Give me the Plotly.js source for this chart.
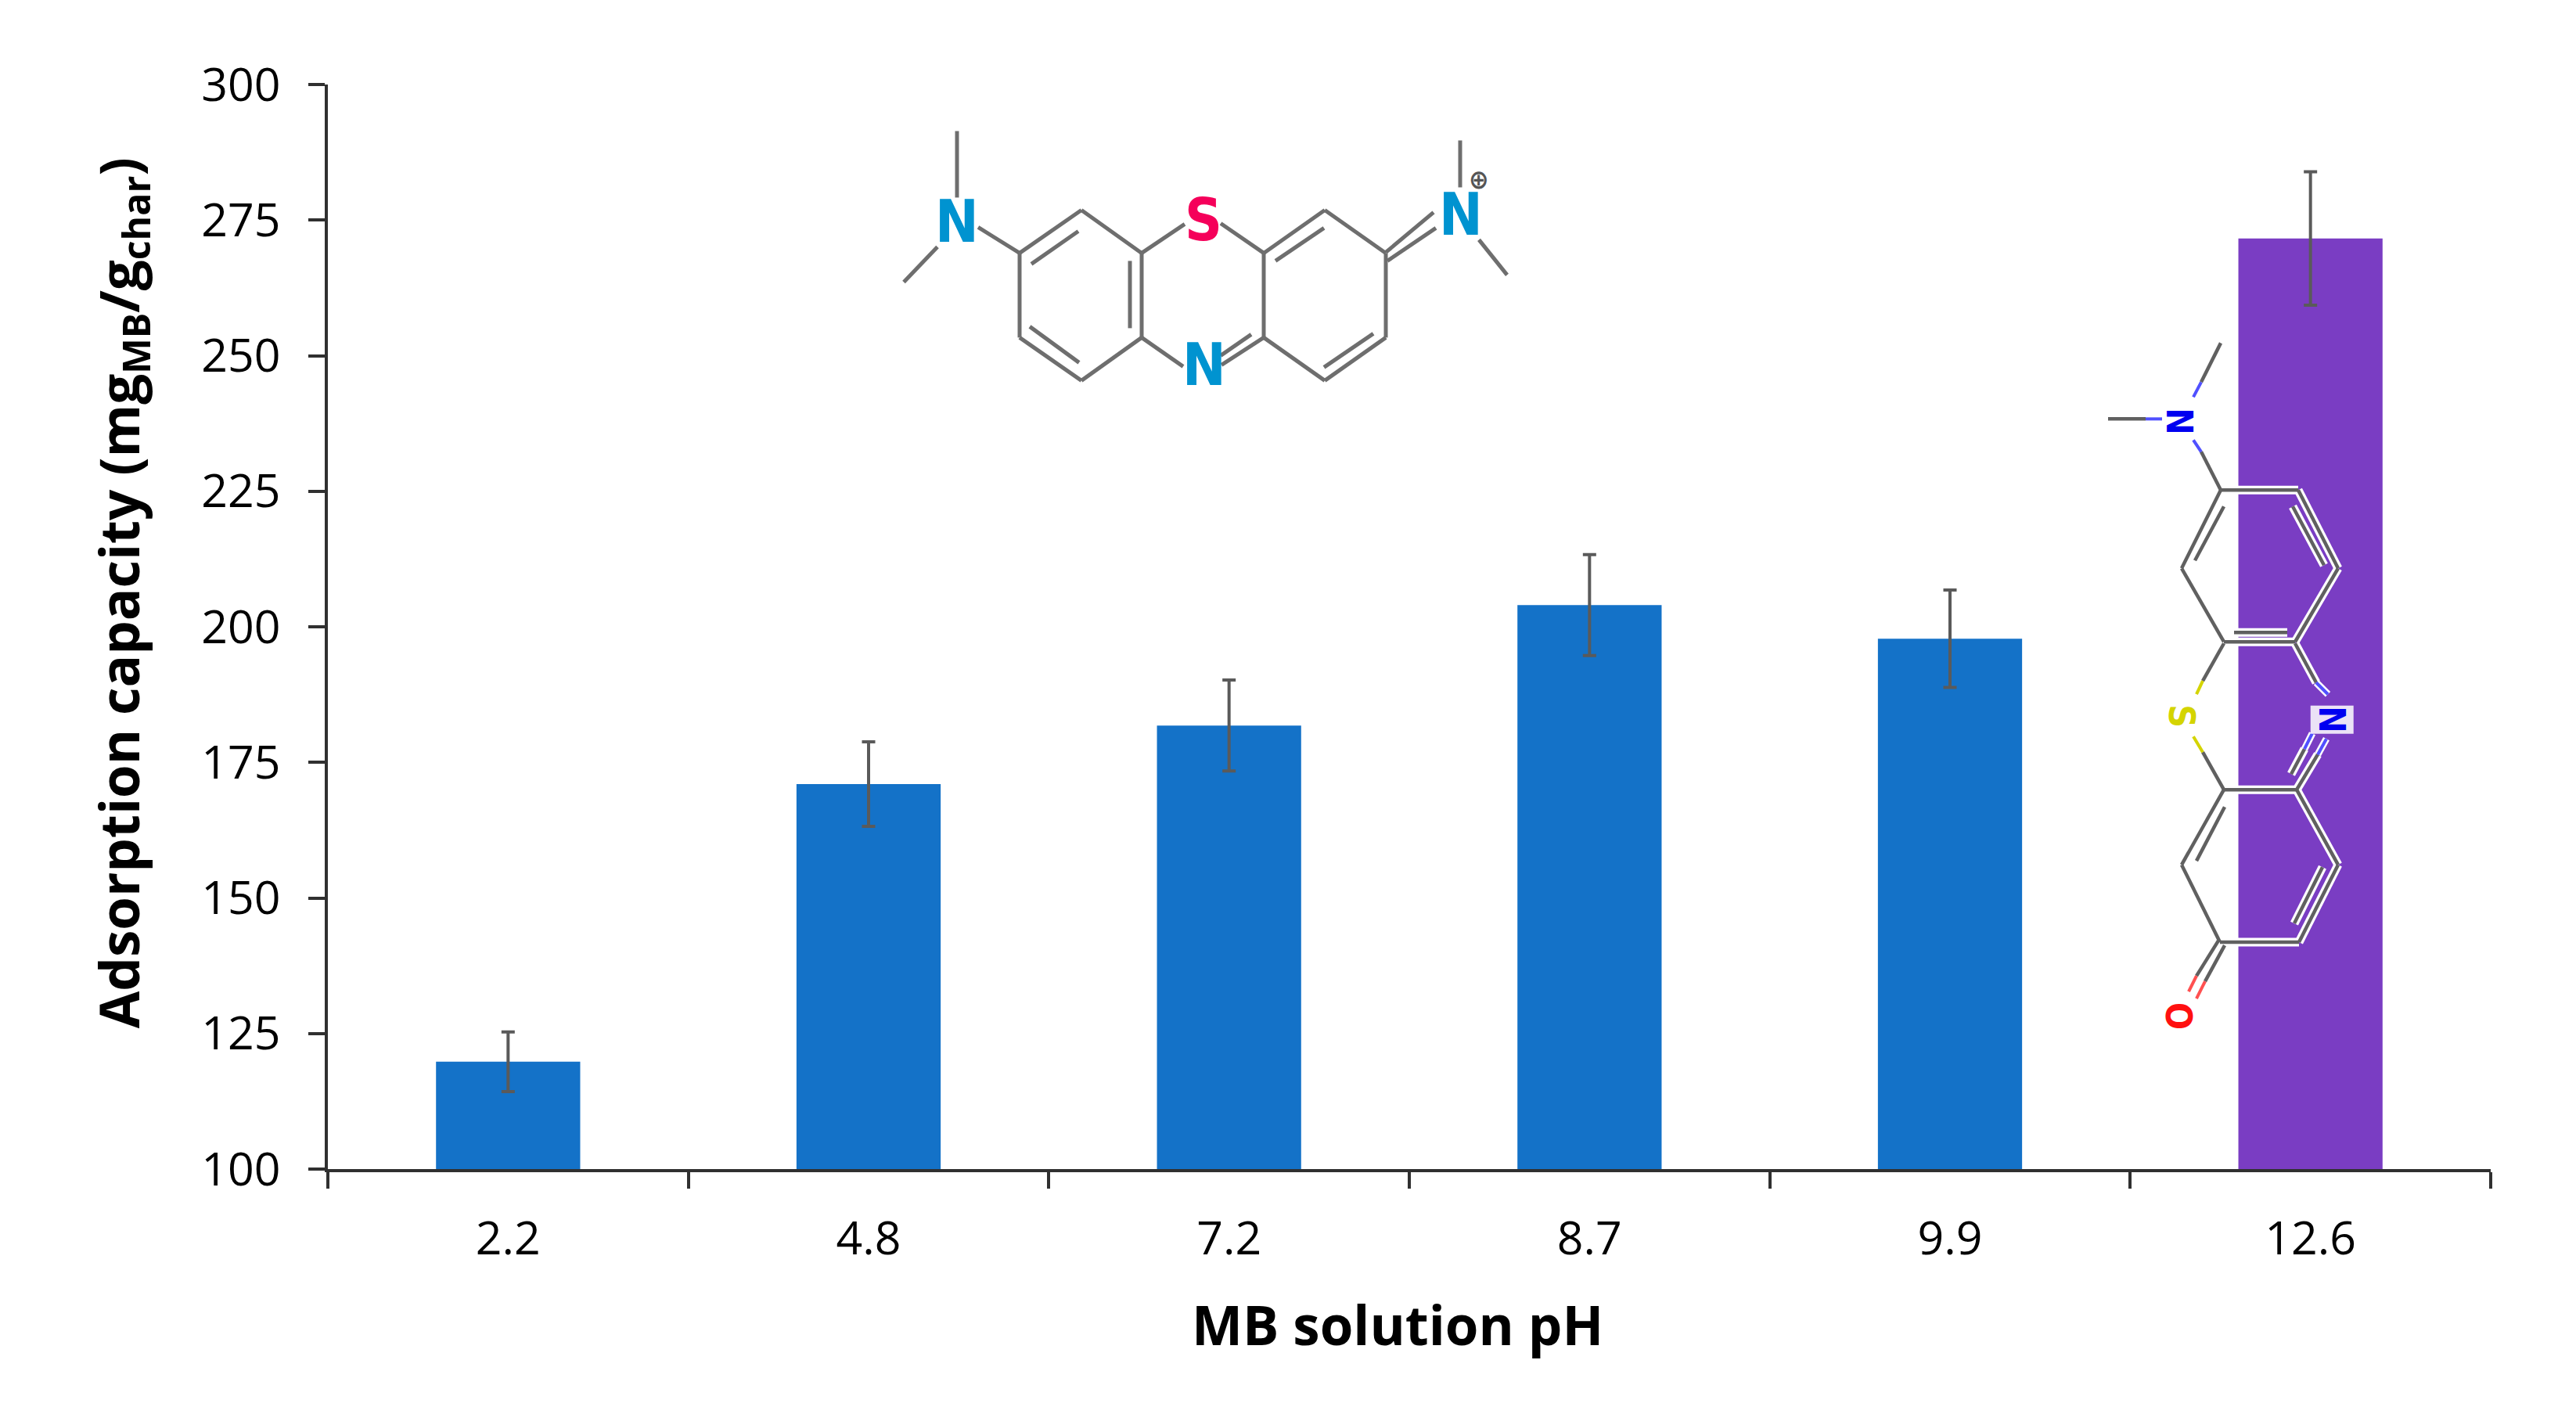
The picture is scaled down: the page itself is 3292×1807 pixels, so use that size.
<!DOCTYPE html>
<html>
<head>
<meta charset="utf-8">
<script src="https://cdn.plot.ly/plotly-3.0.1.min.js"></script>
<style>
    html, body { margin: 0; padding: 0; background: #fff; }
</style>
</head>
<body>
<div id="chart"></div>
<script>
// Chart data
const phLabels = ['2.2', '4.8', '7.2', '8.7', '9.9', '12.6'];
const capacity = [119.8, 171, 181.8, 204, 197.8, 271.6];
const capacityErr = [5.5, 7.8, 8.4, 9.3, 9, 12.3];
const barColors = ['#1472c8', '#1472c8', '#1472c8', '#1472c8', '#1472c8', '#7a3dc3'];
const yTicks = [100, 125, 150, 175, 200, 225, 250, 275, 300];

const WIDTH = 3292;
const HEIGHT = 1807;
const plotArea = { left: 419, right: 3183, top: 107.5, bottom: 1494 };

// Structure drawings, in page pixels: [x1, y1, x2, y2]
const cationBonds = [
    [1223, 167, 1223, 252], [1155, 360, 1198, 315], [1250, 290, 1303, 323],
    [1303, 323, 1382, 268], [1382, 268, 1459, 323], [1459, 323, 1459, 431],
    [1459, 431, 1382, 486], [1382, 486, 1303, 431], [1303, 431, 1303, 323],
    [1318, 337, 1378, 295], [1316, 417, 1379, 463], [1444, 333, 1444, 419],
    [1459, 323, 1514, 286], [1560, 285, 1615, 323], [1459, 431, 1512, 468],
    [1615, 431, 1561, 466], [1599, 427, 1560, 454],
    [1615, 323, 1693, 268], [1693, 268, 1771, 323], [1771, 323, 1771, 431],
    [1771, 431, 1693, 486], [1693, 486, 1615, 431], [1615, 431, 1615, 323],
    [1630, 333, 1692, 291], [1692, 469, 1755, 426],
    [1771, 322, 1832, 271], [1773, 333, 1835, 291],
    [1866, 179, 1866, 239], [1890, 306, 1926, 351]
];
const sulfoneBonds = [
    [2694, 535, 2742, 535], [2838, 438, 2813, 488], [2813, 577, 2838, 626],
    [2838, 626, 2937, 626], [2937, 626, 2988, 726], [2988, 726, 2933, 820],
    [2933, 820, 2842, 820], [2842, 820, 2788, 726], [2788, 726, 2838, 626],
    [2842, 647, 2805, 716], [2930, 647, 2970, 722], [2855, 808, 2923, 808],
    [2842, 822, 2815, 870], [2815, 961, 2842, 1009],
    [2933, 822, 2960, 872], [2935, 1009, 2962, 964], [2928, 989, 2945, 957],
    [2842, 1009, 2935, 1009], [2935, 1009, 2988, 1105], [2988, 1105, 2938, 1204],
    [2938, 1204, 2837, 1204], [2837, 1204, 2788, 1105], [2788, 1105, 2842, 1009],
    [2843, 1031, 2807, 1100], [2968, 1108, 2932, 1180],
    [2835, 1202, 2807, 1247], [2843, 1208, 2818, 1254]
];
const blueStubs = [
    [2742, 535, 2763, 535], [2813, 488, 2803, 507], [2803, 562, 2813, 577],
    [2960, 872, 2975, 887], [2962, 964, 2973, 944], [2945, 957, 2955, 937]
];
const yellowStubs = [[2815, 870, 2807, 887], [2803, 941, 2815, 961]];
const redStubs = [[2807, 1247, 2797, 1267], [2818, 1254, 2807, 1276]];

const atomFont = 'Liberation Sans Narrow, DejaVu Sans Condensed, Liberation Sans, sans-serif';
const atomLabels = [
    { text: 'N', x: 1223, y: 283, color: '#0093d0', size: 74, angle: 0 },
    { text: 'S', x: 1538, y: 281, color: '#f5005a', size: 74, angle: 0 },
    { text: 'N', x: 1539, y: 466, color: '#0093d0', size: 74, angle: 0 },
    { text: 'N', x: 1867, y: 274, color: '#0093d0', size: 74, angle: 0 },
    { text: '⊕', x: 1890, y: 229, color: '#555555', size: 34, angle: 0 },
    { text: 'N', x: 2785, y: 538, color: '#0000f0', size: 46, angle: 90 },
    { text: 'S', x: 2788, y: 915, color: '#d4d400', size: 46, angle: 90 },
    { text: 'N', x: 2980, y: 919, color: '#0000f0', size: 46, angle: 90, halo: true },
    { text: 'O', x: 2784, y: 1298, color: '#ff1010', size: 46, angle: 90 }
];

const px = x => (x - plotArea.left) / (plotArea.right - plotArea.left);
const py = y => (plotArea.bottom - y) / (plotArea.bottom - plotArea.top);

function bondShapes(bonds, color, width) {
    return bonds.map(b => ({
        type: 'line',
        xref: 'paper',
        yref: 'paper',
        x0: px(b[0]),
        y0: py(b[1]),
        x1: px(b[2]),
        y1: py(b[3]),
        line: { color: color, width: width }
    }));
}

function atomAnnotations() {
    return atomLabels.map(a => ({
        text: `<b>${a.text}</b>`,
        xref: 'paper',
        yref: 'paper',
        x: px(a.x),
        y: py(a.y),
        xanchor: 'center',
        yanchor: 'middle',
        showarrow: false,
        textangle: a.angle,
        bgcolor: a.halo ? 'rgba(255,255,255,0.85)' : 'rgba(0,0,0,0)',
        borderpad: 0,
        font: { family: atomFont, size: a.size, color: a.color }
    }));
}

const trace = {
    type: 'bar',
    x: phLabels,
    y: capacity,
    width: 0.4,
    marker: { color: barColors, line: { width: 0 } },
    error_y: {
        type: 'data',
        array: capacityErr,
        visible: true,
        color: '#5a5a5a',
        thickness: 4,
        width: 8.5
    },
    hoverinfo: 'x+y'
};

const titleFont = { family: 'Open Sans, sans-serif', size: 69, color: '#000000' };
const tickFont = { family: 'Open Sans, sans-serif', size: 59, color: '#000000' };

const layout = {
    width: WIDTH,
    height: HEIGHT,
    paper_bgcolor: '#ffffff',
    plot_bgcolor: '#ffffff',
    showlegend: false,
    margin: {
        l: plotArea.left,
        r: WIDTH - plotArea.right,
        t: plotArea.top,
        b: HEIGHT - plotArea.bottom,
        pad: 0
    },
    font: { family: 'Open Sans, sans-serif', color: '#000000' },
    xaxis: {
        type: 'category',
        categoryorder: 'array',
        categoryarray: phLabels,
        range: [-0.5, 5.5],
        tickson: 'boundaries',
        ticks: 'outside',
        ticklen: 21,
        tickwidth: 3.5,
        tickcolor: '#303030',
        showline: true,
        linecolor: '#303030',
        linewidth: 3.5,
        showgrid: false,
        zeroline: false,
        ticklabelstandoff: 34,
        tickfont: tickFont
    },
    yaxis: {
        range: [100, 300],
        tickmode: 'array',
        tickvals: yTicks,
        ticktext: yTicks.map(String),
        ticks: 'outside',
        ticklen: 21,
        tickwidth: 3.5,
        tickcolor: '#303030',
        showline: true,
        linecolor: '#303030',
        linewidth: 3.5,
        showgrid: false,
        zeroline: false,
        ticklabelstandoff: 24,
        tickfont: tickFont
    },
    shapes: [
        ...bondShapes(cationBonds, '#6e6e6e', 5),
        ...bondShapes(sulfoneBonds, '#ffffff', 11),
        ...bondShapes(blueStubs, '#ffffff', 9),
        ...bondShapes(sulfoneBonds, '#606060', 4.5),
        ...bondShapes(blueStubs, '#5050ff', 4),
        ...bondShapes(yellowStubs, '#d4d400', 4),
        ...bondShapes(redStubs, '#ff5050', 4)
    ],
    annotations: [
        {
            text: '<b>Adsorption capacity (mg<sub>MB</sub>/g<sub>char</sub>)</b>',
            xref: 'paper',
            yref: 'paper',
            x: px(155),
            y: py(758),
            xanchor: 'center',
            yanchor: 'middle',
            textangle: -90,
            showarrow: false,
            font: titleFont
        },
        {
            text: '<b>MB solution pH</b>',
            xref: 'paper',
            yref: 'paper',
            x: px(1786),
            y: py(1692),
            xanchor: 'center',
            yanchor: 'middle',
            showarrow: false,
            font: titleFont
        },
        ...atomAnnotations()
    ]
};

Plotly.newPlot('chart', [trace], layout, { displayModeBar: false });
</script>
</body>
</html>
